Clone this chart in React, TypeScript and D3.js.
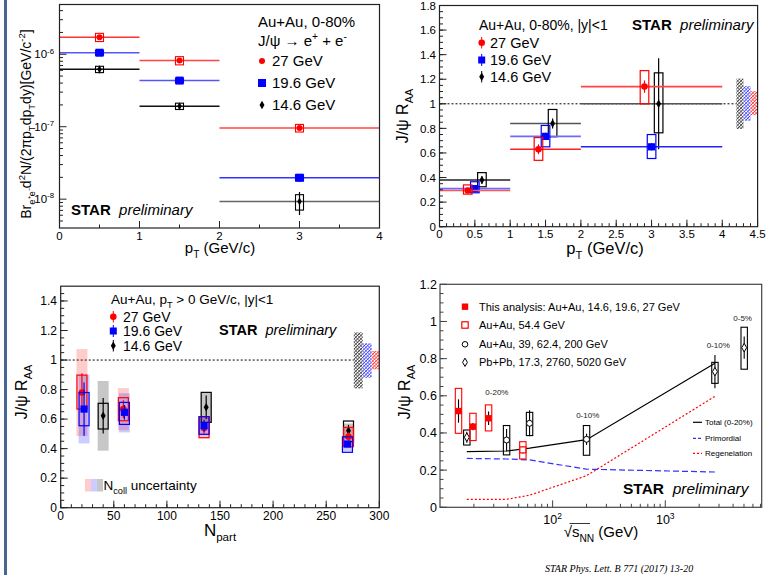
import React from "react";
import * as d3 from "d3";

const FONT = "'Liberation Sans', Arial, Helvetica, sans-serif";
const RED = "#ff0000";
const BLUE = "#0000ff";
const BLACK = "#000000";

// ---------- top-left: invariant yield vs pT ----------
const specBins = [[0, 1], [1, 2], [2, 4]];
const specPt = [0.5, 1.5, 3];
const spec27 = [1.72e-6, 8.2e-7, 9.6e-8];
const spec196 = [1.05e-6, 4.33e-7, 1.98e-8];
const spec146 = [6.2e-7, 1.92e-7, 9.3e-9];
// relative uncertainties
const spec27Stat = [0.05, 0.05, 0.06];
const spec27Sys = [0.13, 0.13, 0.12];
const spec196Stat = [0.04, 0.05, 0.12];
const spec196Sys = [0.08, 0.08, 0.1];
const spec146Stat = [0.12, 0.1, 0.35];
const spec146Sys = [0.1, 0.1, 0.24];
const specXTicks = [0, 1, 2, 3, 4];
const specYTicks = [1e-8, 1e-7, 1e-6];
const specYLabels = ["10^{-8}", "10^{-7}", "10^{-6}"];

// ---------- top-right: RAA vs pT ----------
const raaBins = [[0, 1], [1, 2], [2, 4]];
const raaPt27 = [0.4, 1.4, 2.9];
const raaPt196 = [0.5, 1.5, 3.0];
const raaPt146 = [0.6, 1.6, 3.1];
const raa27 = [0.295, 0.63, 1.14];
const raa27Stat = [0.02, 0.04, 0.05];
const raa27SysLo = [0.265, 0.54, 1.0];
const raa27SysHi = [0.34, 0.725, 1.27];
const raa196 = [0.31, 0.735, 0.65];
const raa196Stat = [0.02, 0.03, 0.03];
const raa196SysLo = [0.276, 0.65, 0.555];
const raa196SysHi = [0.366, 0.824, 0.75];
const raa146 = [0.38, 0.84, 1.0];
const raa146Stat = [0.03, 0.04, 0.37];
const raa146SysLo = [0.325, 0.732, 0.764];
const raa146SysHi = [0.44, 0.954, 1.252];
const raaGlobX0 = [4.2, 4.3, 4.4];
const raaGlobX1 = [4.3, 4.4, 4.5];
const raaGlobLo = [0.795, 0.862, 0.908];
const raaGlobHi = [1.205, 1.144, 1.103];
const raaXTicks = [0, 0.5, 1, 1.5, 2, 2.5, 3, 3.5, 4, 4.5];
const raaYTicks = [0, 0.2, 0.4, 0.6, 0.8, 1, 1.2, 1.4, 1.6, 1.8];

// ---------- bottom-left: RAA vs Npart ----------
const npart27 = [20, 59, 135, 271];
const raaN27 = [0.78, 0.668, 0.54, 0.48];
const raaN27Stat = [0.13, 0.06, 0.04, 0.03];
const raaN27SysLo = [0.668, 0.589, 0.474, 0.413];
const raaN27SysHi = [0.898, 0.745, 0.616, 0.544];
const raaN27NcollLo = [0.485, 0.525, 0.47, 0.42];
const raaN27NcollHi = [1.074, 0.81, 0.61, 0.545];
const npart196 = [22, 60, 135, 270];
const raaN196 = [0.668, 0.646, 0.555, 0.431];
const raaN196Stat = [0.18, 0.05, 0.04, 0.02];
const raaN196SysLo = [0.555, 0.564, 0.497, 0.375];
const raaN196SysHi = [0.78, 0.713, 0.616, 0.48];
const raaN196NcollLo = [0.435, 0.51, 0.49, 0.38];
const raaN196NcollHi = [0.9, 0.775, 0.62, 0.485];
const npart146 = [40, 137, 271];
const raaN146 = [0.623, 0.68, 0.521];
const raaN146Stat = [0.12, 0.08, 0.04];
const raaN146SysLo = [0.533, 0.578, 0.447];
const raaN146SysHi = [0.707, 0.781, 0.587];
const raaN146NcollLo = [0.386, 0.58, 0.47];
const raaN146NcollHi = [0.858, 0.78, 0.57];
const npGlobX0 = [276, 284.4, 292.8];
const npGlobX1 = [284.4, 292.8, 300];
const npGlobLo = [0.808, 0.88, 0.937];
const npGlobHi = [1.187, 1.113, 1.061];
const npXTicks = [0, 50, 100, 150, 200, 250, 300];
const npYTicks = [0, 0.2, 0.4, 0.6, 0.8, 1, 1.2, 1.4];

// ---------- bottom-right: RAA vs sqrt(sNN) ----------
const thisS = [14.6, 19.6, 27];
const thisRaa = [0.518, 0.434, 0.479];
const thisStat = [0.063, 0.02, 0.036];
const thisSysLo = [0.398, 0.359, 0.411];
const thisSysHi = [0.64, 0.506, 0.551];
const au54S = [54.4];
const au54Raa = [0.309];
const au54Stat = [0.02];
const au54SysLo = [0.26];
const au54SysHi = [0.353];
const auS = [39, 62.4, 200];
const auRaa = [0.362, 0.452, 0.366];
const auStat = [0.06, 0.07, 0.03];
const auSysLo = [0.282, 0.386, 0.28];
const auSysHi = [0.44, 0.511, 0.44];
const pbS = [17.3, 2760, 5020];
const pbRaa = [0.377, 0.73, 0.859];
const pbStat = [0.03, 0.09, 0.06];
const pbSysLo = [0.335, 0.667, 0.743];
const pbSysHi = [0.416, 0.78, 0.969];
const modelS = [17.3, 39, 62.4, 200, 2760];
const modelTotal = [0.3, 0.303, 0.318, 0.364, 0.775];
const modelPrim = [0.263, 0.26, 0.255, 0.205, 0.19];
const modelRegen = [0.043, 0.043, 0.065, 0.17, 0.597];
const annoText = ["0-20%", "0-10%", "0-10%", "0-5%"];
const annoS = [32, 205, 2950, 4860];
const annoY = [0.605, 0.48, 0.855, 1.005];
const sYTicks = [0, 0.2, 0.4, 0.6, 0.8, 1, 1.2];
const sXTicks = [100, 1000];
const sXLabels = ["10^{2}", "10^{3}"];

type Seg = { t: string; s?: "sub" | "sup" };
function parse(str: string): Seg[] {
  const out: Seg[] = [];
  const re = /([_^])\{([^}]*)\}/g;
  let last = 0;
  let m: RegExpExecArray | null;
  while ((m = re.exec(str))) {
    if (m.index > last) out.push({ t: str.slice(last, m.index) });
    out.push({ t: m[2], s: m[1] === "_" ? "sub" : "sup" });
    last = re.lastIndex;
  }
  if (last < str.length) out.push({ t: str.slice(last) });
  return out;
}

function Tex({ str, size, x, y, anchor = "start", rotate = 0, weight = "normal", italic = false, family = FONT, fill = "#000" }: any) {
  let off = 0;
  const spans = parse(str).map((p, i) => {
    const target = p.s === "sub" ? size * 0.32 : p.s === "sup" ? -size * 0.42 : 0;
    const dy = target - off;
    off = target;
    return (
      <tspan key={i} dy={dy} fontSize={p.s ? size * 0.68 : size}>
        {p.t}
      </tspan>
    );
  });
  return (
    <text
      x={x}
      y={y}
      fontSize={size}
      fontFamily={family}
      fontWeight={weight}
      fontStyle={italic ? "italic" : "normal"}
      textAnchor={anchor}
      fill={fill}
      style={{ whiteSpace: "pre" }}
      transform={rotate ? `rotate(${rotate},${x},${y})` : undefined}
    >
      {spans}
    </text>
  );
}

function Marker({ shape, x, y, color, s = 3.5 }: any) {
  if (shape === "circle") return <circle cx={x} cy={y} r={s} fill={color} />;
  if (shape === "ocircle") return <circle cx={x} cy={y} r={s} fill="#fff" stroke={color} strokeWidth={1} />;
  if (shape === "square") return <rect x={x - s} y={y - s} width={2 * s} height={2 * s} fill={color} />;
  if (shape === "osquare")
    return <rect x={x - s} y={y - s} width={2 * s} height={2 * s} fill="#fff" stroke={color} strokeWidth={1.2} />;
  const w = s * 0.75;
  const h = s * 1.3;
  const d = `M${x},${y - h}L${x + w},${y}L${x},${y + h}L${x - w},${y}Z`;
  if (shape === "odiamond") return <path d={d} fill="#fff" stroke={color} strokeWidth={1} />;
  return <path d={d} fill={color} />;
}

function Frame({ x, y, xMajor, xMinor, yMajor, yMinor, xLabel, yLabel, xLabelY, yLabelX, tickFont, stroke = "#222" }: any) {
  const [xa, xb] = x.range();
  const [ya, yb] = y.range();
  return (
    <g>
      <rect x={xa} y={yb} width={xb - xa} height={ya - yb} fill="none" stroke={stroke} strokeWidth={1.2} />
      {xMinor.map((v: number, i: number) => (
        <line key={"xm" + i} x1={x(v)} x2={x(v)} y1={ya} y2={ya - 3.5} stroke={stroke} />
      ))}
      {xMajor.map((v: number, i: number) => (
        <line key={"xM" + i} x1={x(v)} x2={x(v)} y1={ya} y2={ya - 7} stroke={stroke} />
      ))}
      {yMinor.map((v: number, i: number) => (
        <line key={"ym" + i} x1={xa} x2={xa + 3.5} y1={y(v)} y2={y(v)} stroke={stroke} />
      ))}
      {yMajor.map((v: number, i: number) => (
        <line key={"yM" + i} x1={xa} x2={xa + 7} y1={y(v)} y2={y(v)} stroke={stroke} />
      ))}
      {xMajor.map((v: number, i: number) => (
        <Tex key={"xl" + i} str={xLabel(v, i)} size={tickFont} x={x(v)} y={xLabelY} anchor="middle" />
      ))}
      {yMajor.map((v: number, i: number) => (
        <Tex key={"yl" + i} str={yLabel(v, i)} size={tickFont} x={yLabelX} y={y(v) + tickFont * 0.36} anchor="end" />
      ))}
    </g>
  );
}

function Star({ x, y, size }: any) {
  return (
    <text x={x} y={y} fontFamily={FONT} fontSize={size} style={{ whiteSpace: "pre" }}>
      <tspan fontWeight="bold">STAR </tspan>
      <tspan fontStyle="italic"> preliminary</tspan>
    </text>
  );
}

const logMinor = (lo: number, hi: number) =>
  d3.range(Math.floor(Math.log10(lo)), Math.ceil(Math.log10(hi)))
    .flatMap((e) => d3.range(2, 10).map((k) => k * Math.pow(10, e)))
    .filter((v) => v > lo && v < hi);

export default function App() {
  const x1 = d3.scaleLinear().domain([0, 4]).range([59.5, 379.5]);
  const y1 = d3.scaleLog().domain([4.0e-9, 4.86e-6]).range([228, 4.5]);
  const x2 = d3.scaleLinear().domain([0, 4.5]).range([439.5, 757.6]);
  const y2 = d3.scaleLinear().domain([0, 1.8]).range([226.7, 5.5]);
  const x3 = d3.scaleLinear().domain([0, 300]).range([60.7, 379.3]);
  const y3 = d3.scaleLinear().domain([0, 1.5]).range([507.7, 286.2]);
  const x4 = d3.scaleLog().domain([10, 7180]).range([440, 761.7]);
  const y4 = d3.scaleLinear().domain([0, 1.2]).range([507.3, 284.3]);

  const spec = [
    { v: spec146, st: spec146Stat, sy: spec146Sys, c: BLACK, line: ["#111", "#111", "#666"], shape: "diamond" },
    { v: spec196, st: spec196Stat, sy: spec196Sys, c: BLUE, line: ["#5555ff", "#5555ff", "#3333ff"], shape: "square" },
    { v: spec27, st: spec27Stat, sy: spec27Sys, c: RED, line: ["#ff3333", "#ff4444", "#ff4444"], shape: "circle" },
  ];

  const raa = [
    { x: raaPt146, v: raa146, st: raa146Stat, lo: raa146SysLo, hi: raa146SysHi, c: BLACK, line: ["#222", "#555", "#555"], shape: "diamond" },
    { x: raaPt196, v: raa196, st: raa196Stat, lo: raa196SysLo, hi: raa196SysHi, c: BLUE, line: ["#6a6aff", "#6a6aff", "#2222ff"], shape: "square" },
    { x: raaPt27, v: raa27, st: raa27Stat, lo: raa27SysLo, hi: raa27SysHi, c: RED, line: ["#ff5555", "#ff2222", "#ff4444"], shape: "circle" },
  ];

  const npSeries = [
    { x: npart146, v: raaN146, st: raaN146Stat, lo: raaN146SysLo, hi: raaN146SysHi, nlo: raaN146NcollLo, nhi: raaN146NcollHi, c: BLACK, fill: "rgba(0,0,0,0.22)", shape: "diamond" },
    { x: npart27, v: raaN27, st: raaN27Stat, lo: raaN27SysLo, hi: raaN27SysHi, nlo: raaN27NcollLo, nhi: raaN27NcollHi, c: RED, fill: "rgba(255,0,0,0.2)", shape: "circle" },
    { x: npart196, v: raaN196, st: raaN196Stat, lo: raaN196SysLo, hi: raaN196SysHi, nlo: raaN196NcollLo, nhi: raaN196NcollHi, c: BLUE, fill: "rgba(0,0,255,0.2)", shape: "square" },
  ];

  const sSeries = [
    { x: auS, v: auRaa, st: auStat, lo: auSysLo, hi: auSysHi, c: BLACK, shape: "ocircle", s: 3 },
    { x: pbS, v: pbRaa, st: pbStat, lo: pbSysLo, hi: pbSysHi, c: BLACK, shape: "odiamond", s: 3.3 },
    { x: au54S, v: au54Raa, st: au54Stat, lo: au54SysLo, hi: au54SysHi, c: RED, shape: "osquare", s: 3 },
    { x: thisS, v: thisRaa, st: thisStat, lo: thisSysLo, hi: thisSysHi, c: RED, shape: "square", s: 3.2 },
  ];

  const line4 = (vals: number[]) =>
    d3.line<number>().x((_, i) => x4(modelS[i])).y((d) => y4(d))(vals) as string;

  // dense ROOT-like hatching
  const hatch = (id: string, color: string) => (
    <pattern id={id} width={2.4} height={2.4} patternUnits="userSpaceOnUse" patternTransform="rotate(45)">
      <rect width={2.4} height={2.4} fill="#fff" />
      <line x1={0} y1={0} x2={0} y2={2.4} stroke={color} strokeWidth={1.5} />
      <line x1={0} y1={1.2} x2={2.4} y2={1.2} stroke={color} strokeWidth={0.5} />
    </pattern>
  );
  const globFill = ["url(#hK)", "url(#hB)", "url(#hR)"];

  return (
    <svg width={780} height={575} style={{ position: "absolute", left: 0, top: 0 }}>
      <defs>
        {hatch("hK", "#333")}
        {hatch("hB", "#3a3aff")}
        {hatch("hR", "#ff2a2a")}
      </defs>
      <rect width={780} height={575} fill="#fff" />
      <rect x={4} y={0} width={3} height={575} fill="#46688f" />

      {/* ===== top-left ===== */}
      {spec.map((s, si) => (
        <g key={"sp" + si}>
          {s.v.map((v, i) => (
            <g key={i}>
              <line x1={x1(specBins[i][0])} x2={x1(specBins[i][1])} y1={y1(v)} y2={y1(v)} stroke={s.line[i]} strokeWidth={1.5} />
              <line x1={x1(specPt[i])} x2={x1(specPt[i])} y1={y1(v * (1 - s.st[i]))} y2={y1(v * (1 + s.st[i]))} stroke={s.c} strokeWidth={1.2} />
              <rect
                x={x1(specPt[i]) - 4}
                y={y1(v * (1 + s.sy[i]))}
                width={8}
                height={y1(v * (1 - s.sy[i])) - y1(v * (1 + s.sy[i]))}
                fill="none"
                stroke={s.c}
                strokeWidth={1.1}
              />
              <Marker shape={s.shape} x={x1(specPt[i])} y={y1(v)} color={s.c} s={s.shape === "square" ? 4 : 3} />
            </g>
          ))}
        </g>
      ))}
      <Frame
        x={x1}
        y={y1}
        xMajor={specXTicks}
        xMinor={d3.range(0.5, 4, 1)}
        yMajor={specYTicks}
        yMinor={logMinor(4.0e-9, 4.86e-6)}
        xLabel={(v: number) => String(v)}
        yLabel={(_: number, i: number) => specYLabels[i]}
        xLabelY={240}
        yLabelX={54}
        tickFont={11.5}
      />
      <Tex str="Au+Au, 0-80%" size={15} x={258} y={27} />
      <Tex str="J/ψ → e^{+} + e^{-}" size={15} x={258} y={46} />
      <Marker shape="circle" x={262} y={61} color={RED} s={3} />
      <Marker shape="square" x={262} y={83} color={BLUE} s={4} />
      <Marker shape="diamond" x={262} y={105} color={BLACK} s={3.3} />
      <Tex str="27 GeV" size={15} x={272} y={66} />
      <Tex str="19.6 GeV" size={15} x={272} y={88} />
      <Tex str="14.6 GeV" size={15} x={272} y={110} />
      <Star x={71} y={215} size={15} />
      <Tex str="p_{T} (GeV/c)" size={15} x={220} y={253} anchor="middle" />
      <Tex str="Br_{e⁺e⁻}d^{2}N/(2πp_{T}dp_{T}dy)[GeV/c^{-2}]" size={14} x={31} y={124} anchor="middle" rotate={-90} />

      {/* ===== top-right ===== */}
      <line x1={x2(0)} x2={x2(4.5)} y1={y2(1)} y2={y2(1)} stroke="#000" strokeDasharray="2,2" />
      {raaGlobX0.map((g, i) => (
        <rect key={"g2" + i} x={x2(g)} y={y2(raaGlobHi[i])} width={x2(raaGlobX1[i]) - x2(g)} height={y2(raaGlobLo[i]) - y2(raaGlobHi[i])} fill={globFill[i]} />
      ))}
      {raa.map((s, si) => (
        <g key={"ra" + si}>
          {s.v.map((v, i) => (
            <g key={i}>
              <line x1={x2(raaBins[i][0])} x2={x2(raaBins[i][1])} y1={y2(v)} y2={y2(v)} stroke={s.line[i]} strokeWidth={1.6} />
              <rect x={x2(s.x[i]) - 4.3} y={y2(s.hi[i])} width={8.6} height={y2(s.lo[i]) - y2(s.hi[i])} fill="none" stroke={s.c} strokeWidth={1.2} />
              <line x1={x2(s.x[i])} x2={x2(s.x[i])} y1={y2(v - s.st[i])} y2={y2(v + s.st[i])} stroke={s.c} strokeWidth={1.2} />
              <Marker shape={s.shape} x={x2(s.x[i])} y={y2(v)} color={s.c} s={s.shape === "square" ? 3.6 : 3.3} />
            </g>
          ))}
        </g>
      ))}
      <Frame
        x={x2}
        y={y2}
        xMajor={raaXTicks}
        xMinor={d3.range(0, 4.5, 0.1)}
        yMajor={raaYTicks}
        yMinor={d3.range(0, 1.8, 0.05)}
        xLabel={(v: number) => String(v)}
        yLabel={(v: number) => String(+v.toFixed(1))}
        xLabelY={238}
        yLabelX={436}
        tickFont={11.5}
      />
      <Tex str="Au+Au, 0-80%, |y|<1" size={14} x={479} y={30} />
      <Star x={632} y={30} size={15} />
      <line x1={481.7} x2={481.7} y1={37} y2={48.5} stroke={RED} />
      <Marker shape="circle" x={481.7} y={42.7} color={RED} s={3.3} />
      <line x1={481.7} x2={481.7} y1={54} y2={66} stroke={BLUE} />
      <Marker shape="square" x={481.7} y={60} color={BLUE} s={3.5} />
      <line x1={481.7} x2={481.7} y1={71} y2={82.5} stroke={BLACK} />
      <Marker shape="diamond" x={481.7} y={76.7} color={BLACK} s={3.3} />
      <Tex str="27 GeV" size={14.5} x={490} y={48} />
      <Tex str="19.6 GeV" size={14.5} x={490} y={65.3} />
      <Tex str="14.6 GeV" size={14.5} x={490} y={82} />
      <Tex str="p_{T} (GeV/c)" size={16.5} x={605} y={254} anchor="middle" />
      <Tex str="J/ψ R_{AA}" size={16} x={408} y={116} anchor="middle" rotate={-90} />

      {/* ===== bottom-left ===== */}
      <line x1={x3(0)} x2={x3(300)} y1={y3(1)} y2={y3(1)} stroke="#000" strokeDasharray="2,2" />
      {npGlobX0.map((g, i) => (
        <rect key={"g3" + i} x={x3(g)} y={y3(npGlobHi[i])} width={x3(npGlobX1[i]) - x3(g)} height={y3(npGlobLo[i]) - y3(npGlobHi[i])} fill={globFill[i]} />
      ))}
      {npSeries.map((s, si) =>
        s.v.map((_, i) => (
          <rect key={"nc" + si + i} x={x3(s.x[i]) - 5.5} y={y3(s.nhi[i])} width={11} height={y3(s.nlo[i]) - y3(s.nhi[i])} fill={s.fill} />
        ))
      )}
      {npSeries.map((s, si) => (
        <g key={"np" + si}>
          {s.v.map((v, i) => (
            <g key={i}>
              <rect x={x3(s.x[i]) - 5} y={y3(s.hi[i])} width={10} height={y3(s.lo[i]) - y3(s.hi[i])} fill="none" stroke={s.c} strokeWidth={1.2} />
              <line x1={x3(s.x[i])} x2={x3(s.x[i])} y1={y3(v - s.st[i])} y2={y3(v + s.st[i])} stroke={s.c} strokeWidth={1.2} />
              <Marker shape={s.shape} x={x3(s.x[i])} y={y3(v)} color={s.c} s={s.shape === "square" ? 3.6 : 3.3} />
            </g>
          ))}
        </g>
      ))}
      <Frame
        x={x3}
        y={y3}
        xMajor={npXTicks}
        xMinor={d3.range(0, 300, 10)}
        yMajor={npYTicks}
        yMinor={d3.range(0, 1.5, 0.05)}
        xLabel={(v: number) => String(v)}
        yLabel={(v: number) => String(+v.toFixed(1))}
        xLabelY={520}
        yLabelX={57}
        tickFont={12}
      />
      <Tex str="Au+Au, p_{T} > 0 GeV/c, |y|<1" size={13.5} x={111} y={304} />
      <line x1={113.3} x2={113.3} y1={311} y2={322.5} stroke={RED} />
      <Marker shape="circle" x={113.3} y={316.7} color={RED} s={3.3} />
      <line x1={113.3} x2={113.3} y1={325} y2={337} stroke={BLUE} />
      <Marker shape="square" x={113.3} y={331} color={BLUE} s={3.5} />
      <line x1={113.3} x2={113.3} y1={340} y2={351.5} stroke={BLACK} />
      <Marker shape="diamond" x={113.3} y={345.7} color={BLACK} s={3.3} />
      <Tex str="27 GeV" size={14} x={123} y={321.7} />
      <Tex str="19.6 GeV" size={14} x={123} y={336} />
      <Tex str="14.6 GeV" size={14} x={123} y={350.7} />
      <Star x={219} y={335} size={14.5} />
      <rect x={85} y={479} width={6} height={12.5} fill="rgba(255,0,0,0.2)" />
      <rect x={91} y={479} width={6} height={12.5} fill="rgba(0,0,255,0.2)" />
      <rect x={97} y={479} width={6} height={12.5} fill="rgba(0,0,0,0.22)" />
      <Tex str="N_{coll} uncertainty" size={13.5} x={103.5} y={490} />
      <Tex str="N_{part}" size={17} x={220} y={536} anchor="middle" />
      <Tex str="J/ψ R_{AA}" size={16} x={27} y={392} anchor="middle" rotate={-90} />

      {/* ===== bottom-right ===== */}
      <path d={line4(modelRegen)} fill="none" stroke={RED} strokeWidth={1.2} strokeDasharray="2,2" />
      <path d={line4(modelPrim)} fill="none" stroke="#3333ff" strokeWidth={1.2} strokeDasharray="6,3" />
      <path d={line4(modelTotal)} fill="none" stroke="#000" strokeWidth={1.2} />
      {sSeries.map((s, si) => (
        <g key={"ss" + si}>
          {s.v.map((v, i) => (
            <g key={i}>
              <rect x={x4(s.x[i]) - 3.2} y={y4(s.hi[i])} width={6.4} height={y4(s.lo[i]) - y4(s.hi[i])} fill="none" stroke={s.c} strokeWidth={1.1} />
              <line x1={x4(s.x[i])} x2={x4(s.x[i])} y1={y4(v - s.st[i])} y2={y4(v + s.st[i])} stroke="#000" strokeWidth={1.1} />
              <Marker shape={s.shape} x={x4(s.x[i])} y={y4(v)} color={s.c} s={s.s} />
            </g>
          ))}
        </g>
      ))}
      {annoText.map((t, i) => (
        <text key={"an" + i} x={x4(annoS[i])} y={y4(annoY[i])} fontFamily={FONT} fontSize={8} textAnchor="middle" fill="#222">
          {t}
        </text>
      ))}
      <Frame
        x={x4}
        y={y4}
        xMajor={sXTicks}
        xMinor={logMinor(10, 7180)}
        yMajor={sYTicks}
        yMinor={d3.range(0, 1.2, 0.05)}
        xLabel={(_: number, i: number) => sXLabels[i]}
        yLabel={(v: number) => String(+v.toFixed(1))}
        xLabelY={524}
        yLabelX={437}
        tickFont={12.5}
        stroke="#444"
      />
      <Marker shape="square" x={465} y={306.7} color={RED} s={3.2} />
      <Marker shape="osquare" x={465} y={325} color={RED} s={3.2} />
      <Marker shape="ocircle" x={465} y={344.3} color={BLACK} s={2.8} />
      <Marker shape="odiamond" x={465} y={362.3} color={BLACK} s={3.2} />
      <Tex str="This analysis: Au+Au, 14.6, 19.6, 27 GeV" size={11} x={479} y={310.5} />
      <Tex str="Au+Au, 54.4 GeV" size={11} x={479} y={329} />
      <Tex str="Au+Au, 39, 62.4, 200 GeV" size={11} x={479} y={348} />
      <Tex str="Pb+Pb, 17.3, 2760, 5020 GeV" size={11} x={479} y={366} />
      <line x1={693} x2={702} y1={422.3} y2={422.3} stroke="#000" strokeWidth={1.2} />
      <line x1={693} x2={702} y1={438.3} y2={438.3} stroke="#3333ff" strokeWidth={1.2} strokeDasharray="3,2" />
      <line x1={693} x2={702} y1={453.3} y2={453.3} stroke={RED} strokeWidth={1.2} strokeDasharray="2,2" />
      <Tex str="Total (0-20%)" size={8} x={705} y={425} />
      <Tex str="Primordial" size={8} x={705} y={441} />
      <Tex str="Regenelation" size={8} x={705} y={456} />
      <Star x={623} y={493.5} size={15.5} />
      <Tex str="√s_{NN} (GeV)" size={15} x={601} y={537} anchor="middle" />
      <line x1={569.5} x2={590} y1={523.5} y2={523.5} stroke="#000" strokeWidth={0.8} />
      <Tex str="J/ψ R_{AA}" size={16} x={410} y={392} anchor="middle" rotate={-90} />
      <text x={545} y={572} fontFamily="'Liberation Serif', 'Times New Roman', serif" fontStyle="italic" fontSize={10}>
        STAR Phys. Lett. B 771 (2017) 13-20
      </text>
    </svg>
  );
}
